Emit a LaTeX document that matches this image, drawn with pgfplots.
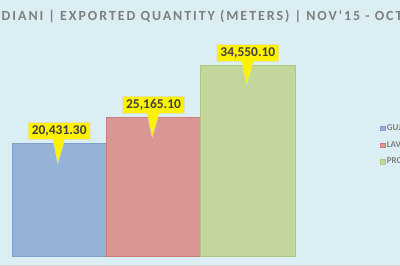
\documentclass[border=0pt]{standalone}
\usepackage{fontspec}
\setmainfont{Carlito}
\usepackage{pgfplots}
\pgfplotsset{compat=1.18}
\usetikzlibrary{shapes.callouts}
\definecolor{bg}{HTML}{DBEEF4}
\definecolor{titlegray}{HTML}{7F7F7F}
\definecolor{bblue}{HTML}{95B3D7}
\definecolor{bblueE}{HTML}{7F9FCF}
\definecolor{bred}{HTML}{D99694}
\definecolor{bredE}{HTML}{CD7E7C}
\definecolor{bgreen}{HTML}{C3D69B}
\definecolor{bgreenE}{HTML}{AFC67E}
\definecolor{lbltext}{HTML}{404040}
\newfontfamily\titlefont[LetterSpace=14]{Carlito}
\begin{document}
\begin{tikzpicture}[x=1bp,y=1bp]
\path[use as bounding box] (0,0) rectangle (400,266);
\clip (0,0) rectangle (400,266);
\fill[bg] (0,0) rectangle (400,266);
\draw[gray!35, line width=1bp] (0,0.5) -- (400,0.5);
\node[anchor=base west, inner sep=0pt, font=\titlefont\bfseries\fontsize{14}{14}\selectfont, text=titlegray] at (1.5,246) {DIANI | EXPORTED QUANTITY (METERS) | NOV'15 - OCT'16};
\begin{axis}[
  at={(12bp,10bp)}, anchor=south west,
  width=283bp, height=216bp, scale only axis,
  xmin=-0.5, xmax=2.5, ymin=0, ymax=39060,
  axis lines=none, clip=false,
  ybar, bar width=1,
  nodes near coords,
  point meta=y,
  /pgf/number format/.cd, fixed, fixed zerofill, precision=2, 1000 sep={,}, assume math mode=true,
  /pgfplots/.cd,
  every node near coord/.append style={
    rectangle callout, fill=yellow, draw=black!15, line width=0.4bp,
    font=\bfseries\fontsize{13.5}{13.5}\selectfont, text=lbltext,
    anchor=center, yshift=12bp, inner xsep=3.5bp, inner ysep=3bp,
    callout relative pointer={(-1bp,-24bp)}, callout pointer width=12bp},
  legend style={at={(rel axis cs:1.30,0.514)}, anchor=west, draw=none, fill=none,
    font=\bfseries\fontsize{9}{9}\selectfont, text=titlegray,
    row sep=5.5bp, inner sep=0pt, legend cell align=left},
  legend image code/.code={\fill[#1] (0bp,-2.2bp) rectangle (4.4bp,2.2bp);},
]
\addplot[bar shift=0pt, fill=bblue, draw=bblueE] coordinates {(0,20431.3)};
\addlegendentry{GUJARAT}
\addplot[bar shift=0pt, fill=bred, draw=bredE] coordinates {(1,25165.1)};
\addlegendentry{LAVANYA}
\addplot[bar shift=0pt, fill=bgreen, draw=bgreenE] coordinates {(2,34550.1)};
\addlegendentry{PROMO}
\end{axis}
\end{tikzpicture}
\end{document}
